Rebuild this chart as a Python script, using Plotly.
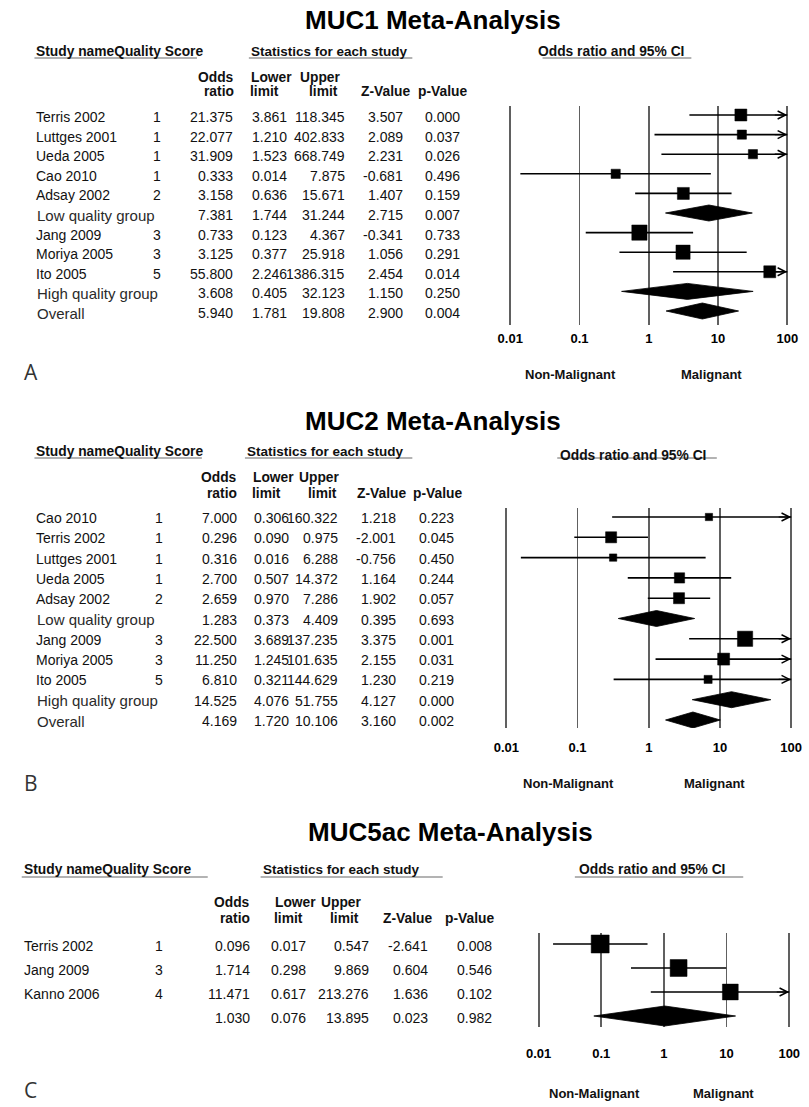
import math
import plotly.graph_objects as go

W, H = 809, 1107

# ---------------- data ----------------
# Panel A: MUC1
a_names = ["Terris 2002", "Luttges 2001", "Ueda 2005", "Cao 2010", "Adsay 2002",
           "Low quality group", "Jang 2009", "Moriya 2005", "Ito 2005",
           "High quality group", "Overall"]
a_quality = ["1", "1", "1", "1", "2", "", "3", "3", "5", "", ""]
a_or = [21.375, 22.077, 31.909, 0.333, 3.158, 7.381, 0.733, 3.125, 55.800, 3.608, 5.940]
a_lo = [3.861, 1.210, 1.523, 0.014, 0.636, 1.744, 0.123, 0.377, 2.246, 0.405, 1.781]
a_hi = [118.345, 402.833, 668.749, 7.875, 15.671, 31.244, 4.367, 25.918, 1386.315, 32.123, 19.808]
a_z = [3.507, 2.089, 2.231, -0.681, 1.407, 2.715, -0.341, 1.056, 2.454, 1.150, 2.900]
a_p = [0.000, 0.037, 0.026, 0.496, 0.159, 0.007, 0.733, 0.291, 0.014, 0.250, 0.004]
a_summary = [False, False, False, False, False, True, False, False, False, True, True]
a_weight = [0.45, 0.20, 0.20, 0.20, 0.45, None, 0.75, 0.65, 0.45, None, None]

# Panel B: MUC2
b_names = ["Cao 2010", "Terris 2002", "Luttges 2001", "Ueda 2005", "Adsay 2002",
           "Low quality group", "Jang 2009", "Moriya 2005", "Ito 2005",
           "High quality group", "Overall"]
b_quality = ["1", "1", "1", "1", "2", "", "3", "3", "5", "", ""]
b_or = [7.000, 0.296, 0.316, 2.700, 2.659, 1.283, 22.500, 11.250, 6.810, 14.525, 4.169]
b_lo = [0.306, 0.090, 0.016, 0.507, 0.970, 0.373, 3.689, 1.245, 0.321, 4.076, 1.720]
b_hi = [160.322, 0.975, 6.288, 14.372, 7.286, 4.409, 137.235, 101.635, 144.629, 51.755, 10.106]
b_z = [1.218, -2.001, -0.756, 1.164, 1.902, 0.395, 3.375, 2.155, 1.230, 4.127, 3.160]
b_p = [0.223, 0.045, 0.450, 0.244, 0.057, 0.693, 0.001, 0.031, 0.219, 0.000, 0.002]
b_summary = [False, False, False, False, False, True, False, False, False, True, True]
b_weight = [0.03, 0.37, 0.03, 0.30, 0.37, None, 0.75, 0.45, 0.10, None, None]

# Panel C: MUC5ac
c_names = ["Terris 2002", "Jang 2009", "Kanno 2006", ""]
c_quality = ["1", "3", "4", ""]
c_or = [0.096, 1.714, 11.471, 1.030]
c_lo = [0.017, 0.298, 0.617, 0.076]
c_hi = [0.547, 9.869, 213.276, 13.895]
c_z = [-2.641, 0.604, 1.636, 0.023]
c_p = [0.008, 0.546, 0.102, 0.982]
c_summary = [False, False, False, True]
c_weight = [1.00, 0.90, 0.80, None]

titles = ["MUC1 Meta-Analysis", "MUC2 Meta-Analysis", "MUC5ac Meta-Analysis"]
panel_letters = ["A", "B", "C"]
tick_vals = [0.01, 0.1, 1, 10, 100]
tick_text = ["0.01", "0.1", "1", "10", "100"]

# ---------------- layout geometry (pixels) ----------------
SANS = "Liberation Sans, Arial, Helvetica, sans-serif"
TXT = 14      # table text size
HDR = 13.8    # bold header size

geo = [
    dict(title_x=300, title_y=20, hdr_y=51, ci_hdr_x=615, ci_hdr_y=51,
         name_x=26, q_x=151, or_x=231, lo_x=286, hi_x=345, z_x=405, p_x=463,
         stats_x=245, hdr_line=(26, 192, 245, 412), ci_line=(545, 697), line_y=58,
         col_odds=232, col_lower=245, col_upper=340, col_z=358, col_p=416, col_y1=77, col_y2=92,
         f0=512, f4=795, ftop=106, fbot=325, row0=115, step=19.6, tshift=-2,
         ticklen=1, dia_h=8, nm_x=574, m_x=718, lab_y=374, letter_y=372),
    dict(title_x=300, title_y=421, hdr_y=451, ci_hdr_x=637, ci_hdr_y=455,
         name_x=26, q_x=153, or_x=235, lo_x=288, hi_x=338, z_x=397, p_x=457,
         stats_x=241, hdr_line=(26, 197, 241, 412), ci_line=(560, 723), line_y=458,
         col_odds=235, col_lower=247, col_upper=339, col_z=353, col_p=411, col_y1=477, col_y2=493,
         f0=508, f4=799, ftop=508, fbot=728, row0=517, step=20.3, tshift=-1,
         ticklen=7, dia_h=8, nm_x=572, m_x=721, lab_y=783, letter_y=783),
    dict(title_x=303, title_y=832, hdr_y=870, ci_hdr_x=657, ci_hdr_y=870,
         name_x=13, q_x=153, or_x=248, lo_x=305, hi_x=370, z_x=430, p_x=495,
         stats_x=257, hdr_line=(13, 203, 257, 443), ci_line=(578, 750), line_y=877,
         col_odds=248, col_lower=270, col_upper=362, col_z=380, col_p=443, col_y1=902, col_y2=918,
         f0=541, f4=797, ftop=933, fbot=1027, row0=944, step=24.0, tshift=-2,
         ticklen=14, dia_h=10, nm_x=598, m_x=730, lab_y=1093, letter_y=1090),
]

panels = [
    (a_names, a_quality, a_or, a_lo, a_hi, a_z, a_p, a_summary, a_weight),
    (b_names, b_quality, b_or, b_lo, b_hi, b_z, b_p, b_summary, b_weight),
    (c_names, c_quality, c_or, c_lo, c_hi, c_z, c_p, c_summary, c_weight),
]

XMIN, XMAX = 0.01, 100.0
PAD = 0.05  # decades of padding beyond 0.01 and 100


def fx(x):
    return x / W


def fy(y):
    return 1 - y / H


fig = go.Figure()
layout = dict(width=W, height=H, margin=dict(l=0, r=0, t=0, b=0, pad=0),
              paper_bgcolor="white", plot_bgcolor="white", showlegend=False,
              autosize=False)
annotations = []
shapes = []

for k, (names, qual, orr, lo, hi, zv, pv, summ, wts) in enumerate(panels):
    g = geo[k]
    idx = k + 1
    xa = "x" if idx == 1 else f"x{idx}"
    ya = "y" if idx == 1 else f"y{idx}"
    n = len(names)
    dec = (g["f4"] - g["f0"]) / 4.0
    x_left = g["f0"] - PAD * dec
    x_right = g["f4"] + PAD * dec
    layout["xaxis" if idx == 1 else f"xaxis{idx}"] = dict(
        type="log", range=[-2 - PAD, 2 + PAD], domain=[fx(x_left), fx(x_right)],
        anchor=ya, tickvals=tick_vals, ticktext=tick_text,
        tickfont=dict(family=SANS, size=13, color="black", weight="bold"),
        ticks="outside", ticklen=g["ticklen"], tickcolor="rgba(0,0,0,0)",
        showgrid=True, gridcolor="#606060", gridwidth=1.8,
        zeroline=False, showline=False, fixedrange=True)
    top_val = (g["ftop"] - g["row0"]) / g["step"]
    bot_val = (g["fbot"] - g["row0"]) / g["step"]
    layout["yaxis" if idx == 1 else f"yaxis{idx}"] = dict(
        range=[bot_val, top_val], domain=[fy(g["fbot"]), fy(g["ftop"])],
        anchor=xa, visible=False, showgrid=False, zeroline=False, fixedrange=True)

    # CI lines and arrows
    for i in range(n):
        if summ[i]:
            continue
        fig.add_trace(go.Scatter(x=[lo[i], min(hi[i], XMAX)], y=[i, i], mode="lines",
                                 line=dict(color="black", width=1.6),
                                 xaxis=xa, yaxis=ya, hoverinfo="skip"))
        if hi[i] > XMAX:
            annotations.append(dict(x=math.log10(XMAX), y=i, xref=xa, yref=ya,
                                    ax=-14, ay=0, showarrow=True, arrowhead=5,
                                    arrowsize=1.3, arrowwidth=1.2, arrowcolor="black",
                                    text=""))
    # squares
    sx = [orr[i] for i in range(n) if not summ[i]]
    sy = [i for i in range(n) if not summ[i]]
    ss = [7 + 11 * wts[i] for i in range(n) if not summ[i]]
    fig.add_trace(go.Scatter(x=sx, y=sy, mode="markers", opacity=1,
                             marker=dict(symbol="square", size=ss, color="#000000",
                                         opacity=1, line=dict(width=0.5, color="#000000")),
                             xaxis=xa, yaxis=ya, hoverinfo="skip"))
    # diamonds
    hh = g["dia_h"] / g["step"]
    for i in range(n):
        if not summ[i]:
            continue
        fig.add_trace(go.Scatter(x=[lo[i], orr[i], hi[i], orr[i], lo[i]],
                                 y=[i, i - hh, i, i + hh, i], mode="lines",
                                 fill="toself", fillcolor="black",
                                 line=dict(color="black", width=0.8),
                                 xaxis=xa, yaxis=ya, hoverinfo="skip"))

    # table text
    for i in range(n):
        ts = g["tshift"]
        if summ[i]:
            annotations.append(dict(x=fx(g["name_x"] + 1), y=i, xref="paper", yref=ya,
                                    text=names[i], showarrow=False, xanchor="left",
                                    yanchor="middle", yshift=ts,
                                    font=dict(family=SANS, size=15, color="#2a2a2a")))
        else:
            annotations.append(dict(x=fx(g["name_x"]), y=i, xref="paper", yref=ya,
                                    text=names[i], showarrow=False, xanchor="left",
                                    yanchor="middle", yshift=ts,
                                    font=dict(family=SANS, size=TXT, color="#111")))
        if qual[i]:
            annotations.append(dict(x=fx(g["q_x"]), y=i, xref="paper", yref=ya,
                                    text=qual[i], showarrow=False, xanchor="center",
                                    yanchor="middle", yshift=ts,
                                    font=dict(family=SANS, size=TXT, color="#111")))
        for colx, vals in ((g["or_x"], orr), (g["lo_x"], lo), (g["hi_x"], hi),
                           (g["z_x"], zv), (g["p_x"], pv)):
            annotations.append(dict(x=fx(colx), y=i, xref="paper", yref=ya,
                                    text=f"{vals[i]:.3f}", showarrow=False,
                                    xanchor="right", yanchor="middle", yshift=ts,
                                    font=dict(family=SANS, size=TXT, color="#111")))

    # headers
    def hdr(text, x, y, anchor="left", size=HDR, family=SANS, bold=True, color="#111"):
        annotations.append(dict(x=fx(x), y=fy(y), xref="paper", yref="paper",
                                text=text, showarrow=False, xanchor=anchor,
                                yanchor="middle",
                                font=dict(family=family, size=size, color=color,
                                          weight="bold" if bold else "normal")))

    hdr(titles[k], g["title_x"], g["title_y"], size=26, color="black")
    hdr("Study nameQuality Score", g["name_x"], g["hdr_y"])
    hdr("Statistics for each study", g["stats_x"], g["hdr_y"], size=13.5)
    hdr("Odds ratio and 95% CI", g["ci_hdr_x"], g["ci_hdr_y"], anchor="center")
    hdr("Odds", g["col_odds"], g["col_y1"], anchor="right")
    hdr("ratio", g["col_odds"], g["col_y2"], anchor="right")
    hdr("Lower", g["col_lower"], g["col_y1"])
    hdr("limit", g["col_lower"] + 16, g["col_y2"], anchor="center")
    hdr("Upper", g["col_upper"], g["col_y1"], anchor="right")
    hdr("limit", g["col_upper"] - 2, g["col_y2"], anchor="right")
    hdr("Z-Value", g["col_z"], g["col_y2"])
    hdr("p-Value", g["col_p"], g["col_y2"])
    hdr("Non-Malignant", g["nm_x"], g["lab_y"], anchor="center", size=13)
    hdr("Malignant", g["m_x"], g["lab_y"], anchor="center", size=13)
    hdr(panel_letters[k], 13, g["letter_y"], size=21, family="Open Sans, sans-serif",
        bold=False, color="#333")

    # header underlines
    x1, x2, x3, x4 = g["hdr_line"]
    for a, b in ((x1, x2), (x3, x4), g["ci_line"]):
        shapes.append(dict(type="line", xref="paper", yref="paper",
                           x0=fx(a), x1=fx(b), y0=fy(g["line_y"]), y1=fy(g["line_y"]),
                           line=dict(color="#9a9a9a", width=1.5)))

layout["annotations"] = annotations
layout["shapes"] = shapes
fig.update_layout(**layout)
fig.write_html(
    "out.html",
    config={"displayModeBar": False, "staticPlot": True},
    post_script="document.body.style.margin='0';document.body.style.padding='0';"
                "document.body.style.overflow='hidden';"
                "document.documentElement.style.overflow='hidden';",
)
